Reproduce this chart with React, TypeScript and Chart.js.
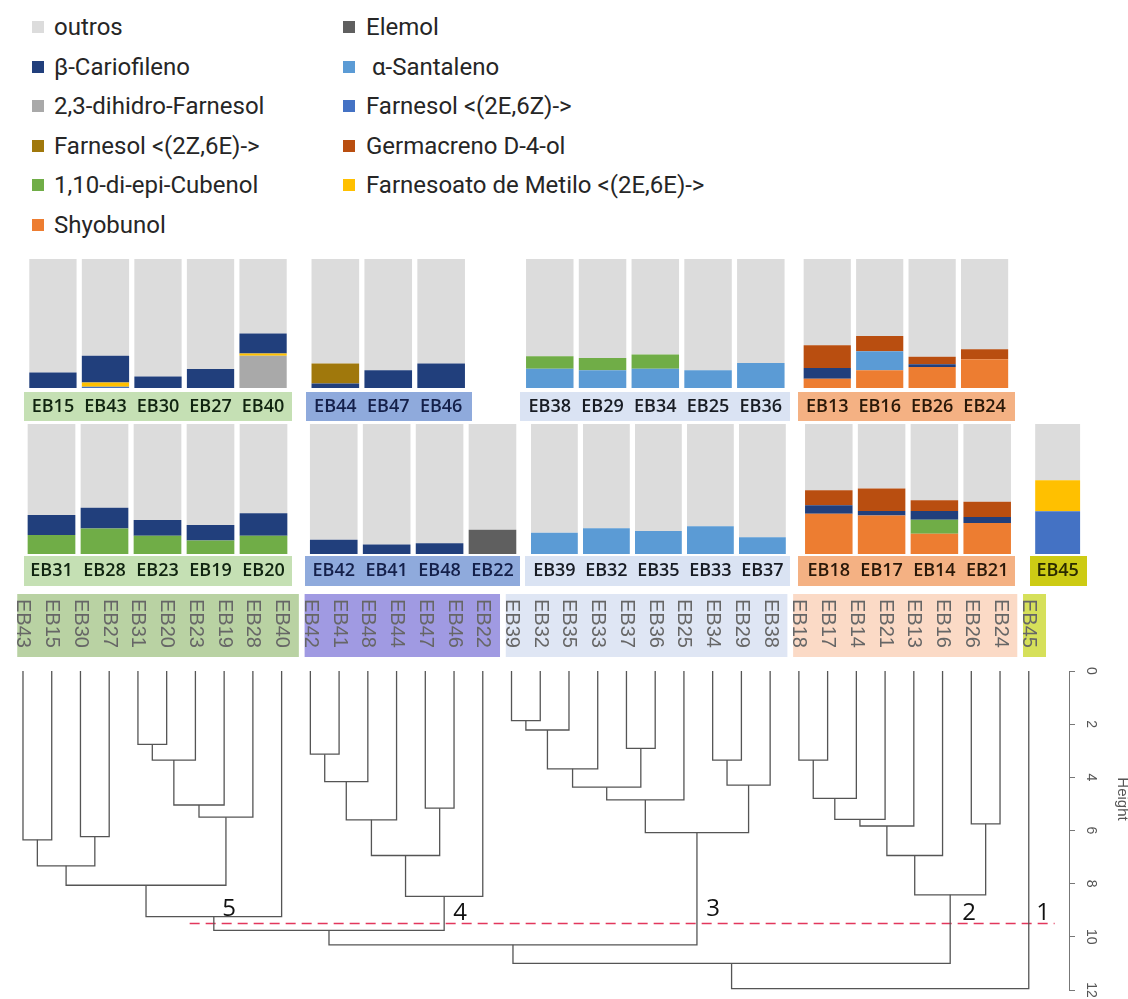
import React, { useEffect, useRef } from "react";
import { Chart, registerables } from "chart.js";

Chart.register(...registerables);

// ---- Composition data (percent of total area per sample) ----
const samples = [
  "EB15", "EB43", "EB30", "EB27", "EB40", "EB44", "EB47", "EB46",
  "EB38", "EB29", "EB34", "EB25", "EB36", "EB13", "EB16", "EB26", "EB24",
  "EB31", "EB28", "EB23", "EB19", "EB20", "EB42", "EB41", "EB48", "EB22",
  "EB39", "EB32", "EB35", "EB33", "EB37", "EB18", "EB17", "EB14", "EB21", "EB45",
];

const shyobunol = [0, 0, 0, 0, 0, 0, 0, 0, 0, 0, 0, 0, 0, 7.2, 13.7, 16.3, 22.2, 0, 0, 0, 0, 0, 0, 0, 0, 0, 0, 0, 0, 0, 0, 31.0, 29.7, 15.5, 23.8, 0];
const aSantaleno = [0, 0, 0, 0, 0, 0, 0, 0, 15.0, 13.7, 15.0, 13.7, 19.4, 0, 14.7, 0, 0, 0, 0, 0, 0, 0, 0, 0, 0, 0, 16.3, 19.9, 17.6, 21.4, 12.9, 0, 0, 0, 0, 0];
const cubenol = [0, 0, 0, 0, 0, 0, 0, 0, 9.6, 9.6, 10.9, 0, 0, 0, 0, 0, 0, 14.6, 19.7, 14.1, 10.3, 14.1, 0, 0, 0, 0, 0, 0, 0, 0, 0, 0, 0, 10.9, 0, 0];
const dihidroFarnesol = [0, 0, 0, 0, 25.0, 0, 0, 0, 0, 0, 0, 0, 0, 0, 0, 0, 0, 0, 0, 0, 0, 0, 0, 0, 0, 0, 0, 0, 0, 0, 0, 0, 0, 0, 0, 0];
const farnesol2E6Z = [0, 1.0, 0, 0, 0, 0, 0, 0, 0, 0, 0, 0, 0, 0, 0, 0, 0, 0, 0, 0, 0, 0, 0, 0, 0, 0, 0, 0, 0, 0, 0, 0, 0, 0, 0, 32.8];
const farnesoato = [0, 3.3, 0, 0, 1.8, 0, 0, 0, 0, 0, 0, 0, 0, 0, 0, 0, 0, 0, 0, 0, 0, 0, 0, 0, 0, 0, 0, 0, 0, 0, 0, 0, 0, 0, 0, 24.0];
const bCariofileno = [12.0, 20.7, 9.0, 14.7, 15.5, 3.5, 13.8, 19.0, 0, 0, 0, 0, 0, 8.3, 0, 2.2, 0, 15.4, 15.9, 12.0, 12.0, 17.2, 11.0, 7.3, 8.3, 0, 0, 0, 0, 0, 0, 6.5, 3.4, 6.7, 4.7, 0];
const germacreno = [0, 0, 0, 0, 0, 0, 0, 0, 0, 0, 0, 0, 0, 17.6, 11.9, 5.8, 7.8, 0, 0, 0, 0, 0, 0, 0, 0, 0, 0, 0, 0, 0, 0, 11.6, 17.3, 8.3, 11.6, 0];
const farnesol2Z6E = [0, 0, 0, 0, 0, 15.5, 0, 0, 0, 0, 0, 0, 0, 0, 0, 0, 0, 0, 0, 0, 0, 0, 0, 0, 0, 0, 0, 0, 0, 0, 0, 0, 0, 0, 0, 0];
const elemol = [0, 0, 0, 0, 0, 0, 0, 0, 0, 0, 0, 0, 0, 0, 0, 0, 0, 0, 0, 0, 0, 0, 0, 0, 0, 18.7, 0, 0, 0, 0, 0, 0, 0, 0, 0, 0];
const outros = [88.0, 75.0, 91.0, 85.3, 57.7, 81.0, 86.2, 81.0, 75.4, 76.7, 74.1, 86.3, 80.6, 66.9, 59.7, 75.7, 70.0, 70.0, 64.4, 73.9, 77.7, 68.7, 89.0, 92.7, 91.7, 81.3, 83.7, 80.1, 82.4, 78.6, 87.1, 50.9, 49.6, 58.6, 59.9, 43.2];

// Stacking order, bottom to top
const series = [
  { label: "Shyobunol", values: shyobunol, color: "#ed7d31" },
  { label: "\u03b1-Santaleno", values: aSantaleno, color: "#5b9bd5" },
  { label: "1,10-di-epi-Cubenol", values: cubenol, color: "#70ad47" },
  { label: "2,3-dihidro-Farnesol", values: dihidroFarnesol, color: "#a9a9a9" },
  { label: "Farnesol <(2E,6Z)->", values: farnesol2E6Z, color: "#4472c4" },
  { label: "Farnesoato de Metilo <(2E,6E)->", values: farnesoato, color: "#ffc000" },
  { label: "\u03b2-Cariofileno", values: bCariofileno, color: "#213f7c" },
  { label: "Germacreno D-4-ol", values: germacreno, color: "#b94e10" },
  { label: "Farnesol <(2Z,6E)->", values: farnesol2Z6E, color: "#a0780c" },
  { label: "Elemol", values: elemol, color: "#5f5f5f" },
  { label: "outros", values: outros, color: "#dcdcdc" },
];

const legendColumns = [
  ["outros", "\u03b2-Cariofileno", "2,3-dihidro-Farnesol", "Farnesol <(2Z,6E)->", "1,10-di-epi-Cubenol", "Shyobunol"],
  ["Elemol", "\u03b1-Santaleno", "Farnesol <(2E,6Z)->", "Germacreno D-4-ol", "Farnesoato de Metilo <(2E,6E)->"],
];

// ---- Hierarchical clustering (leaf order and merges with heights) ----
const leaves = [
  "EB43", "EB15", "EB30", "EB27", "EB31", "EB20", "EB23", "EB19", "EB28", "EB40",
  "EB42", "EB41", "EB48", "EB44", "EB47", "EB46", "EB22",
  "EB39", "EB32", "EB35", "EB33", "EB37", "EB36", "EB25", "EB34", "EB29", "EB38",
  "EB18", "EB17", "EB14", "EB21", "EB13", "EB16", "EB26", "EB24", "EB45",
];

// [left, right, height]; strings are leaves, numbers refer to earlier merges
const merges: [string | number, string | number, number][] = [
  ["EB43", "EB15", 6.35], // 0
  ["EB30", "EB27", 6.23], // 1
  [0, 1, 7.33], // 2
  ["EB31", "EB20", 2.76], // 3
  [3, "EB23", 3.35], // 4
  [4, "EB19", 5.04], // 5
  [5, "EB28", 5.5], // 6
  [2, 6, 8.06], // 7
  [7, "EB40", 9.24], // 8
  ["EB42", "EB41", 3.13], // 9
  [9, "EB48", 4.16], // 10
  [10, "EB44", 5.6], // 11
  ["EB47", "EB46", 5.16], // 12
  [11, 12, 6.94], // 13
  [13, "EB22", 8.48], // 14
  [8, 14, 9.76], // 15
  ["EB39", "EB32", 1.87], // 16
  [16, "EB35", 2.22], // 17
  [17, "EB33", 3.68], // 18
  ["EB37", "EB36", 2.91], // 19
  [18, 19, 4.37], // 20
  [20, "EB25", 4.85], // 21
  ["EB34", "EB29", 3.35], // 22
  [22, "EB38", 4.29], // 23
  [21, 23, 6.08], // 24
  [15, 24, 10.3], // 25
  ["EB18", "EB17", 3.35], // 26
  [26, "EB14", 4.79], // 27
  [27, "EB21", 5.58], // 28
  [28, "EB13", 5.83], // 29
  [29, "EB16", 6.94], // 30
  ["EB26", "EB24", 5.75], // 31
  [30, 31, 8.42], // 32
  [25, 32, 11.0], // 33
  [33, "EB45", 11.95], // 34
];

const cutHeight = 9.5;
const cutSpan = [5.8, 35.9];
const heightTicks = { min: 0, max: 12, step: 2 };

// Cluster groups along the leaf axis (first leaf, last leaf, band colour)
const leafBands: [number, number, string][] = [
  [0, 9, "#b9d2a3"],
  [10, 16, "#a09ae2"],
  [17, 26, "#dfe6f4"],
  [27, 34, "#fbdac6"],
  [35, 35, "#d6e05a"],
];

// ---- Panel layout ----
const rows = [
  { top: 259, barBottom: 388, boxTop: 392, boxBottom: 421 },
  { top: 424, barBottom: 554, boxTop: 556, boxBottom: 586 },
];

type Panel = { names: string[]; x: number; w: number; row: number; padL: number; padR: number; fill: string; ink: string };

const panels: Panel[] = [
  { names: ["EB15", "EB43", "EB30", "EB27", "EB40"], x: 24, w: 268, row: 0, padL: 0.5, padR: 2, fill: "#c5e0b4", ink: "#102410" },
  { names: ["EB44", "EB47", "EB46"], x: 306, w: 166, row: 0, padL: 2.3, padR: 4.4, fill: "#8faadc", ink: "#14204a" },
  { names: ["EB38", "EB29", "EB34", "EB25", "EB36"], x: 520, w: 270, row: 0, padL: 3.4, padR: 2.3, fill: "#dae3f3", ink: "#181c24" },
  { names: ["EB13", "EB16", "EB26", "EB24"], x: 798, w: 217, row: 0, padL: 2.4, padR: 4.2, fill: "#f4b183", ink: "#2a1808" },
  { names: ["EB31", "EB28", "EB23", "EB19", "EB20"], x: 24, w: 268, row: 1, padL: 0.5, padR: 2, fill: "#c5e0b4", ink: "#102410" },
  { names: ["EB42", "EB41", "EB48", "EB22"], x: 305, w: 215, row: 1, padL: 2.3, padR: 0.6, fill: "#8faadc", ink: "#14204a" },
  { names: ["EB39", "EB32", "EB35", "EB33", "EB37"], x: 525, w: 265, row: 1, padL: 3.4, padR: 1.5, fill: "#dae3f3", ink: "#181c24" },
  { names: ["EB18", "EB17", "EB14", "EB21"], x: 798, w: 217, row: 1, padL: 4.4, padR: 1.4, fill: "#f4b183", ink: "#2a1808" },
  { names: ["EB45"], x: 1030, w: 57, row: 1, padL: 0.4, padR: 4.4, fill: "#cdcb14", ink: "#2a2a00" },
];

const LABEL_FONT = 18;

function BarPanel({ panel }: { panel: Panel }) {
  const ref = useRef<HTMLCanvasElement | null>(null);
  const row = rows[panel.row];
  const canvasTop = row.top - 2;
  const height = row.boxBottom - canvasTop;

  useEffect(() => {
    const idx = panel.names.map((n) => samples.indexOf(n));
    const lineH = LABEL_FONT * 1.2;
    const pad = (row.boxTop + row.boxBottom) / 2 - row.barBottom - lineH / 2;
    const chart = new Chart(ref.current as HTMLCanvasElement, {
      type: "bar",
      data: {
        labels: panel.names,
        datasets: series.map((s) => ({
          label: s.label,
          data: idx.map((i) => s.values[i]),
          backgroundColor: s.color,
          borderWidth: 0,
          barPercentage: 0.9,
          categoryPercentage: 1,
        })),
      },
      options: {
        responsive: false,
        animation: false,
        events: [],
        layout: { padding: { top: 2, left: panel.padL, right: panel.padR, bottom: 0 } },
        plugins: { legend: { display: false }, tooltip: { enabled: false } },
        scales: {
          x: {
            stacked: true,
            grid: { display: false, drawTicks: false },
            border: { display: false },
            ticks: {
              color: panel.ink,
              font: { family: "'Open Sans', sans-serif", size: LABEL_FONT, weight: "600" },
              padding: pad,
              maxRotation: 0,
              minRotation: 0,
              autoSkip: false,
            },
            afterFit: (s: any) => {
              s.height = row.boxBottom - row.barBottom;
            },
          },
          y: { stacked: true, display: false, min: 0, max: 100 },
        },
      },
    });
    return () => chart.destroy();
  }, []);

  return (
    <>
      <div
        style={{
          position: "absolute",
          left: panel.x,
          top: row.boxTop,
          width: panel.w,
          height: row.boxBottom - row.boxTop,
          background: panel.fill,
        }}
      />
      <canvas
        ref={ref}
        width={panel.w}
        height={height}
        style={{ position: "absolute", left: panel.x, top: canvasTop, width: panel.w, height }}
      />
    </>
  );
}

const DENDRO_TOP = 590;
const DENDRO_H = 409;

const dendroDecor = {
  id: "dendroDecor",
  afterDraw(chart: any) {
    const ctx = chart.ctx as CanvasRenderingContext2D;
    const xs = chart.scales.x;
    const ys = chart.scales.y;
    ctx.save();
    // coloured bands behind the leaf names
    for (const [a, b, color] of leafBands) {
      const x0 = xs.getPixelForValue(a - 0.2);
      const x1 = xs.getPixelForValue(b + 0.6);
      ctx.fillStyle = color;
      ctx.fillRect(x0, 4, x1 - x0, 63);
    }
    // leaf names, rotated to read downwards
    ctx.fillStyle = "#666666";
    ctx.font = "20px 'Liberation Sans', Arial, sans-serif";
    ctx.textAlign = "left";
    ctx.textBaseline = "middle";
    leaves.forEach((name, i) => {
      ctx.save();
      ctx.translate(xs.getPixelForValue(i), 9);
      ctx.rotate(Math.PI / 2);
      ctx.fillText(name, 0, 0);
      ctx.restore();
    });
    // height axis labels
    ctx.fillStyle = "#555555";
    ctx.font = "14px 'Liberation Sans', Arial, sans-serif";
    ctx.textAlign = "center";
    ctx.textBaseline = "alphabetic";
    for (const t of ys.ticks) {
      ctx.save();
      ctx.translate(ys.left + 18, ys.getPixelForValue(t.value));
      ctx.rotate(Math.PI / 2);
      ctx.fillText(String(t.value), 0, 0);
      ctx.restore();
    }
    ctx.font = "15px 'Liberation Sans', Arial, sans-serif";
    ctx.save();
    ctx.translate(ys.left + 49, 799 - DENDRO_TOP);
    ctx.rotate(Math.PI / 2);
    ctx.fillText("Height", 0, 0);
    ctx.restore();
    ctx.restore();
  },
};

function Dendrogram() {
  const ref = useRef<HTMLCanvasElement | null>(null);
  useEffect(() => {
    const pos: { x: number; h: number }[] = [];
    const at = (r: string | number) => (typeof r === "string" ? { x: leaves.indexOf(r), h: 0 } : pos[r]);
    const datasets: any[] = merges.map(([a, b, h]) => {
      const pa = at(a);
      const pb = at(b);
      pos.push({ x: (pa.x + pb.x) / 2, h });
      return {
        data: [
          { x: pa.x, y: pa.h },
          { x: pa.x, y: h },
          { x: pb.x, y: h },
          { x: pb.x, y: pb.h },
        ],
        showLine: true,
        borderColor: "#555555",
        borderWidth: 1.3,
        pointRadius: 0,
        tension: 0,
        fill: false,
        clip: false,
      };
    });
    datasets.push({
      data: [
        { x: cutSpan[0], y: cutHeight },
        { x: cutSpan[1], y: cutHeight },
      ],
      showLine: true,
      borderColor: "#e2375c",
      borderWidth: 1.6,
      borderDash: [10, 6],
      pointRadius: 0,
      fill: false,
      clip: false,
    });

    const chart = new Chart(ref.current as HTMLCanvasElement, {
      type: "scatter",
      data: { datasets },
      options: {
        responsive: false,
        animation: false,
        events: [],
        layout: { padding: { top: 671 - DENDRO_TOP, bottom: DENDRO_TOP + DENDRO_H - 990, left: 0, right: 0 } },
        plugins: { legend: { display: false }, tooltip: { enabled: false } },
        scales: {
          x: { type: "linear", display: false, min: -0.8, max: 36.4 },
          y: {
            type: "linear",
            position: "right",
            reverse: true,
            min: heightTicks.min,
            max: heightTicks.max,
            ticks: { stepSize: heightTicks.step, display: false },
            grid: { drawOnChartArea: false, drawTicks: true, tickLength: 6, color: "#777777", lineWidth: 1 },
            border: { display: true, color: "#777777", width: 1 },
            afterFit: (s: any) => {
              s.width = 59;
            },
          },
        },
      },
      plugins: [dendroDecor],
    });
    return () => chart.destroy();
  }, []);
  return (
    <canvas
      ref={ref}
      width={1128}
      height={DENDRO_H}
      style={{ position: "absolute", left: 0, top: DENDRO_TOP, width: 1128, height: DENDRO_H }}
    />
  );
}

const clusterTags: [string, number, number][] = [
  ["5", 229, 907],
  ["4", 460, 911],
  ["3", 713, 907],
  ["2", 969, 911],
  ["1", 1043, 911],
];

const legendRowsY = [27, 67, 106, 146, 185, 225];
const legendColX = [
  { marker: 32, text: 54 },
  { marker: 343, text: 366 },
];

function Legend() {
  return (
    <>
      {legendColumns.map((col, ci) =>
        col.map((label, ri) => {
          const s = series.find((d) => d.label === label)!;
          const cy = legendRowsY[ri];
          return (
            <React.Fragment key={label}>
              <div
                style={{
                  position: "absolute",
                  left: legendColX[ci].marker,
                  top: cy - 6,
                  width: 12,
                  height: 12,
                  background: s.color,
                }}
              />
              <div
                style={{
                  position: "absolute",
                  left: legendColX[ci].text,
                  top: cy - 15,
                  height: 30,
                  lineHeight: "30px",
                  fontFamily: "Roboto, sans-serif",
                  fontSize: 24,
                  color: "#262626",
                  whiteSpace: "pre",
                }}
              >
                {label === "\u03b1-Santaleno" ? " " + label : label}
              </div>
            </React.Fragment>
          );
        })
      )}
    </>
  );
}

export default function App() {
  return (
    <div
      style={{
        position: "absolute",
        left: 0,
        top: 0,
        width: 1128,
        height: 999,
        overflow: "hidden",
        background: "#ffffff",
      }}
    >
      <Legend />
      {panels.map((p) => (
        <BarPanel key={p.names.join("-")} panel={p} />
      ))}
      <Dendrogram />
      {clusterTags.map(([t, x, y]) => (
        <div
          key={t}
          style={{
            position: "absolute",
            left: x - 10,
            top: y - 16,
            width: 20,
            height: 32,
            lineHeight: "32px",
            textAlign: "center",
            fontFamily: "'Open Sans', sans-serif",
            fontSize: 24,
            color: "#111111",
          }}
        >
          {t}
        </div>
      ))}
    </div>
  );
}
